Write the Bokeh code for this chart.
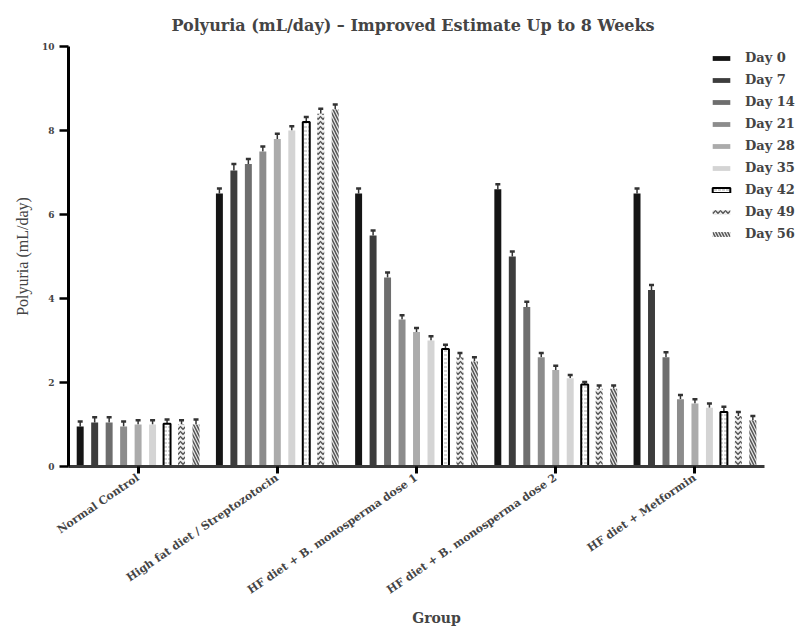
from bokeh.plotting import figure
from bokeh.embed import file_html
from bokeh.resources import INLINE
from bokeh.models import (ColumnDataSource, Whisker, TeeHead, FixedTicker, Range1d,
                          Legend, LegendItem)
from bokeh.transform import dodge

groups = ["Normal Control", "High fat diet / Streptozotocin",
          "HF diet + B. monosperma dose 1", "HF diet + B. monosperma dose 2",
          "HF diet + Metformin"]
days = ["Day 0", "Day 7", "Day 14", "Day 21", "Day 28", "Day 35", "Day 42", "Day 49", "Day 56"]

# mean polyuria (mL/day) per group, one value per day
normal_control = [0.95, 1.05, 1.05, 0.95, 1.0, 1.0, 1.02, 1.0, 1.0]
hfd_stz        = [6.5, 7.05, 7.2, 7.5, 7.8, 8.0, 8.2, 8.4, 8.5]
bm_dose1       = [6.5, 5.5, 4.5, 3.5, 3.2, 3.0, 2.8, 2.6, 2.5]
bm_dose2       = [6.6, 5.0, 3.8, 2.6, 2.3, 2.1, 1.95, 1.85, 1.85]
metformin      = [6.5, 4.2, 2.6, 1.6, 1.5, 1.4, 1.3, 1.2, 1.1]

# error (upper whisker length)
err_normal    = [0.12, 0.12, 0.12, 0.12, 0.1, 0.1, 0.1, 0.1, 0.12]
err_hfd       = [0.12, 0.15, 0.12, 0.12, 0.12, 0.1, 0.12, 0.12, 0.12]
err_dose1     = [0.12, 0.12, 0.12, 0.1, 0.1, 0.1, 0.1, 0.1, 0.1]
err_dose2     = [0.12, 0.12, 0.12, 0.1, 0.1, 0.08, 0.06, 0.08, 0.08]
err_metformin = [0.12, 0.12, 0.12, 0.1, 0.1, 0.1, 0.12, 0.1, 0.1]

y_ticks = [0, 2, 4, 6, 8, 10]

series = [normal_control, hfd_stz, bm_dose1, bm_dose2, metformin]
errors = [err_normal, err_hfd, err_dose1, err_dose2, err_metformin]
group_pos = list(range(len(groups)))

styles = [
    dict(fill_color="#151515", line_color=None),
    dict(fill_color="#3d3d3d", line_color=None),
    dict(fill_color="#6e6e6e", line_color=None),
    dict(fill_color="#8c8c8c", line_color=None),
    dict(fill_color="#ababab", line_color=None),
    dict(fill_color="#d4d4d4", line_color=None),
    dict(fill_color="white", line_color="black", line_width=2,
         hatch_pattern="horizontal_dash", hatch_color="#aaaaaa", hatch_scale=4, hatch_weight=1),
    dict(fill_color="#eeeeee", line_color=None,
         hatch_pattern="horizontal_wave", hatch_color="#555555", hatch_scale=5, hatch_weight=1.5),
    dict(fill_color="#e6e6e6", line_color=None,
         hatch_pattern="left_diagonal_line", hatch_color="#555555", hatch_scale=6, hatch_weight=1.5),
]

SERIF_WIDE = "DejaVu Serif"

p = figure(width=804, height=628, x_range=Range1d(-0.5, 4.787), y_range=Range1d(0, 10),
           output_backend="svg", toolbar_location=None,
           min_border_left=68, min_border_right=0, min_border_top=46, min_border_bottom=162)

p.title.text = "Polyuria (mL/day) \u2013 Improved Estimate Up to 8 Weeks"
p.title.align = "left"
p.title.offset = 103
p.title.text_font = SERIF_WIDE
p.title.text_font_style = "bold"
p.title.text_font_size = "16px"
p.title.standoff = 24

spacing = 0.104
items = []
for j, day in enumerate(days):
    vals = [s[j] for s in series]
    ups = [s[j] + e[j] for s, e in zip(series, errors)]
    src = ColumnDataSource(dict(gx=group_pos, val=vals, up=ups))
    xpos = dodge("gx", (j - 4) * spacing)
    r = p.vbar(x=xpos, top="val", bottom=0, width=0.05, source=src, **styles[j])
    w = Whisker(base=xpos, upper="up", lower="val", source=src,
                line_color="#333333", line_width=1.5,
                upper_head=TeeHead(size=5, line_color="#333333", line_width=2.5),
                lower_head=None)
    p.add_layout(w)
    items.append(LegendItem(label=day, renderers=[r]))

legend = Legend(items=items, location=(642, 225), orientation="vertical",
                glyph_width=22, glyph_height=6, label_standoff=13, spacing=7,
                padding=0, margin=0, border_line_color=None, background_fill_alpha=0,
                label_text_font=SERIF_WIDE, label_text_font_style="bold",
                label_text_font_size="13px", label_text_baseline="alphabetic")
p.add_layout(legend)

p.xgrid.grid_line_color = None
p.ygrid.grid_line_color = None
p.outline_line_color = None

# y axis
p.yaxis.ticker = FixedTicker(ticks=y_ticks)
p.yaxis.minor_tick_line_color = None
p.yaxis.axis_line_width = 3
p.yaxis.axis_line_color = "black"
p.yaxis.major_tick_line_width = 2.5
p.yaxis.major_tick_out = 9
p.yaxis.major_tick_in = 0
p.yaxis.major_label_text_font = SERIF_WIDE
p.yaxis.major_label_text_font_style = "bold"
p.yaxis.major_label_text_font_size = "9px"
p.yaxis.major_label_standoff = 5
p.yaxis.axis_label = "Polyuria (mL/day)"
p.yaxis.axis_label_text_font = "Liberation Serif"
p.yaxis.axis_label_text_font_style = "normal"
p.yaxis.axis_label_text_font_size = "16px"
p.yaxis.axis_label_standoff = 8

# x axis
p.xaxis.ticker = FixedTicker(ticks=group_pos)
p.xaxis.major_label_overrides = {i: g for i, g in zip(group_pos, groups)}
p.xaxis.bounds = (-0.5, len(groups) - 0.5)
p.xaxis.minor_tick_line_color = None
p.xaxis.axis_line_width = 3
p.xaxis.axis_line_color = "#3a3a3a"
p.xaxis.major_tick_line_width = 3
p.xaxis.major_tick_out = 7
p.xaxis.major_tick_in = 0
p.xaxis.major_tick_line_color = "black"
p.xaxis.major_label_orientation = 0.6
p.xaxis.major_label_text_font = SERIF_WIDE
p.xaxis.major_label_text_font_style = "bold"
p.xaxis.major_label_text_font_size = "11px"
p.xaxis.major_label_standoff = 3
p.xaxis.axis_label = "Group"
p.xaxis.axis_label_text_font = SERIF_WIDE
p.xaxis.axis_label_text_font_style = "bold"
p.xaxis.axis_label_text_font_size = "14px"
p.xaxis.axis_label_standoff = 5

open("out.html", "w").write(file_html(p, INLINE))
